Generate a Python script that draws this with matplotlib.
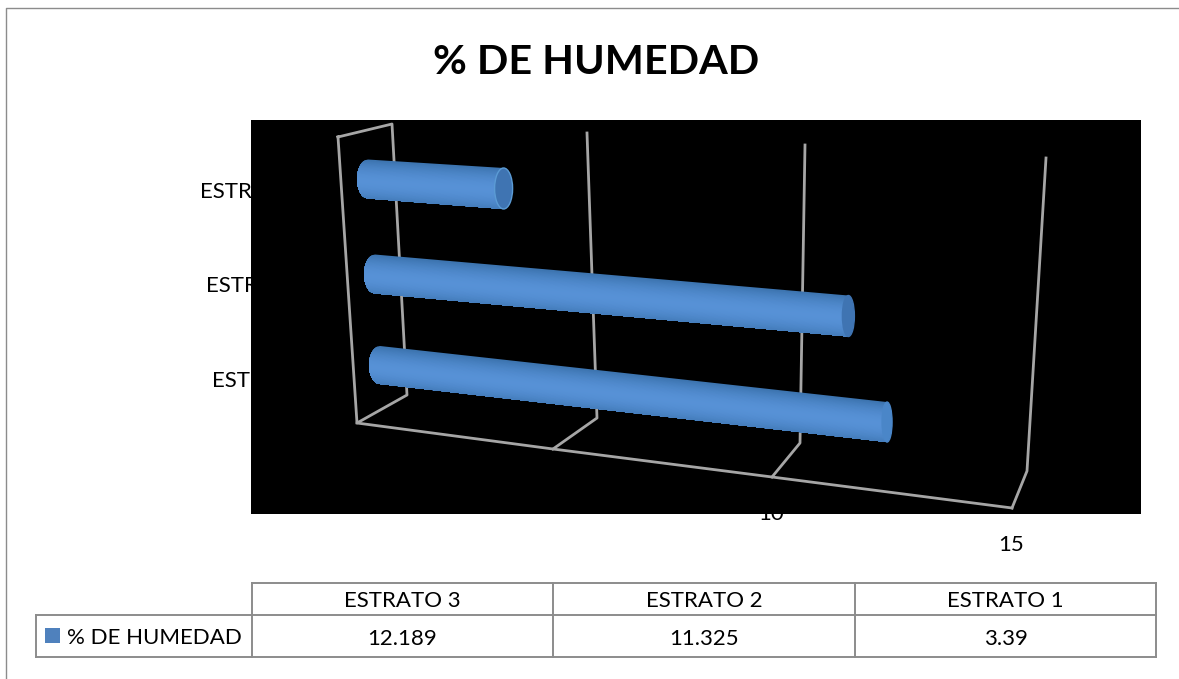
import numpy as np
import matplotlib
matplotlib.use('Agg')
import matplotlib.pyplot as plt
from matplotlib.patches import Ellipse, Rectangle

plt.rcParams['font.family'] = ['Lato', 'DejaVu Sans']

# data
title = '% DE HUMEDAD'
series_name = '% DE HUMEDAD'
table_categories = ['ESTRATO 3', 'ESTRATO 2', 'ESTRATO 1']
table_values = [12.189, 11.325, 3.39]
table_labels = ['12.189', '11.325', '3.39']
ticks = [0, 5, 10, 15]

# the 3D box, pixel positions of each tick on the floor and wall edges
front_x = [357, 553, 772, 1012]
front_y = [423, 449, 477, 508]
back_x = [407, 597, 800, 1027]
back_y = [395, 418, 443, 471]
top_x = [392, 587, 805, 1046]
top_y = [124, 133, 145, 158]

# bars by row: ESTRATO 3, 2, 1
bar_x0 = [380, 375, 368]
bar_y0 = [365, 274, 179]
bar_dx = [41.6, 41.8, 40.0]
bar_dy = [4.68, 3.71, 2.8]
bar_r = [20, 20.5, 20.5]
bar_hw = [11, 11, 11]
cap_hw = [5, 6, 9]
cap_c = ['#4a86c8', '#3f74b2', '#3f74b2']
label_x = [212, 206, 200]
label_y = [381, 286, 192]

W, H = 1179, 679
grid_c = '#a6a6a6'
line_c = '#8c8c8c'

fig = plt.figure(figsize=(W/100, H/100), dpi=100)
ax = fig.add_axes([0, 0, 1, 1])
ax.set_xlim(0, W)
ax.set_ylim(H, 0)
ax.axis('off')

# outer frame
ax.plot([6, 6, 1179], [679, 8, 8], color='#8c8c8c', lw=1.0, zorder=1)

ax.text(596, 63, title, fontsize=29.7, fontweight='bold', ha='center', va='center', color='#000000')

# axis labels, the black panel hides most of them
for i, cat in enumerate(table_categories):
    ax.text(label_x[i], label_y[i], cat, fontsize=16, ha='left', va='center', zorder=2)
for i, tk in enumerate(ticks):
    ax.text(front_x[i]-1, front_y[i]+37, str(tk), fontsize=16, ha='center', va='center', zorder=2)

ax.add_patch(Rectangle((251, 120), 890, 394, fc='black', ec='none', zorder=3))

# walls and floor
ax.plot([338, top_x[0], back_x[0], front_x[0], 338], [137, top_y[0], back_y[0], front_y[0], 137],
        color=grid_c, lw=2, zorder=4)
ax.plot(front_x, front_y, color=grid_c, lw=2, zorder=4)
for i in range(1, 4):
    ax.plot([top_x[i], back_x[i], front_x[i]], [top_y[i], back_y[i], front_y[i]],
            color=grid_c, lw=2, zorder=4)

# cylinders, each strip runs down to the bottom edge so no seams show
n = 50
edges = np.linspace(-1, 1, n+1)
arc = np.linspace(-1, 1, 61)
for i, v in enumerate(table_values):
    x0, y0 = bar_x0[i], bar_y0[i]
    x1 = x0 + bar_dx[i]*v
    y1 = y0 + bar_dy[i]*v
    r, hw = bar_r[i], bar_hw[i]
    for a, b in zip(edges[:-1], edges[1:]):
        t = (a+b)/2
        shade = 1 - abs(t-0.1)**2
        col = np.array([0.25, 0.47, 0.71])*(1-shade) + np.array([0.34, 0.57, 0.84])*shade
        tt = np.concatenate([[a], arc[arc > a]])
        xs = x0 - hw*np.sqrt(1-tt*tt)
        ys = y0 + tt*r*0.95
        ax.fill(np.concatenate([xs, [x1, x1]]), np.concatenate([ys, [y1+r, y1+a*r]]),
                color=col, lw=0, zorder=5)
    ec = '#5b9bd5' if i == 2 else cap_c[i]
    ax.add_patch(Ellipse((x1, y1), 2*cap_hw[i], 2*r, fc=cap_c[i], ec=ec, lw=1.0, zorder=6))

# data table
x_cols = [252, 553, 855, 1156]
y_rows = [583, 615, 657]
ax.plot([x_cols[0], x_cols[-1]], [y_rows[0]]*2, color=line_c, lw=1.4, zorder=2)
ax.plot([36, x_cols[-1]], [y_rows[1]]*2, color=line_c, lw=1.4, zorder=2)
ax.plot([36, x_cols[-1]], [y_rows[2]]*2, color=line_c, lw=1.4, zorder=2)
ax.plot([36, 36], y_rows[1:], color=line_c, lw=1.4, zorder=2)
for x in x_cols:
    ax.plot([x, x], [y_rows[0], y_rows[2]], color=line_c, lw=1.4, zorder=2)
for i in range(3):
    xc = (x_cols[i]+x_cols[i+1])/2
    ax.text(xc, 601, table_categories[i], fontsize=16, ha='center', va='center')
    ax.text(xc, 639, table_labels[i], fontsize=16, ha='center', va='center')
ax.add_patch(Rectangle((45, 628), 15, 15, fc='#4f81bd', ec='none'))
ax.text(67, 638, series_name, fontsize=16, ha='left', va='center')

fig.savefig('out.png', dpi=100)
